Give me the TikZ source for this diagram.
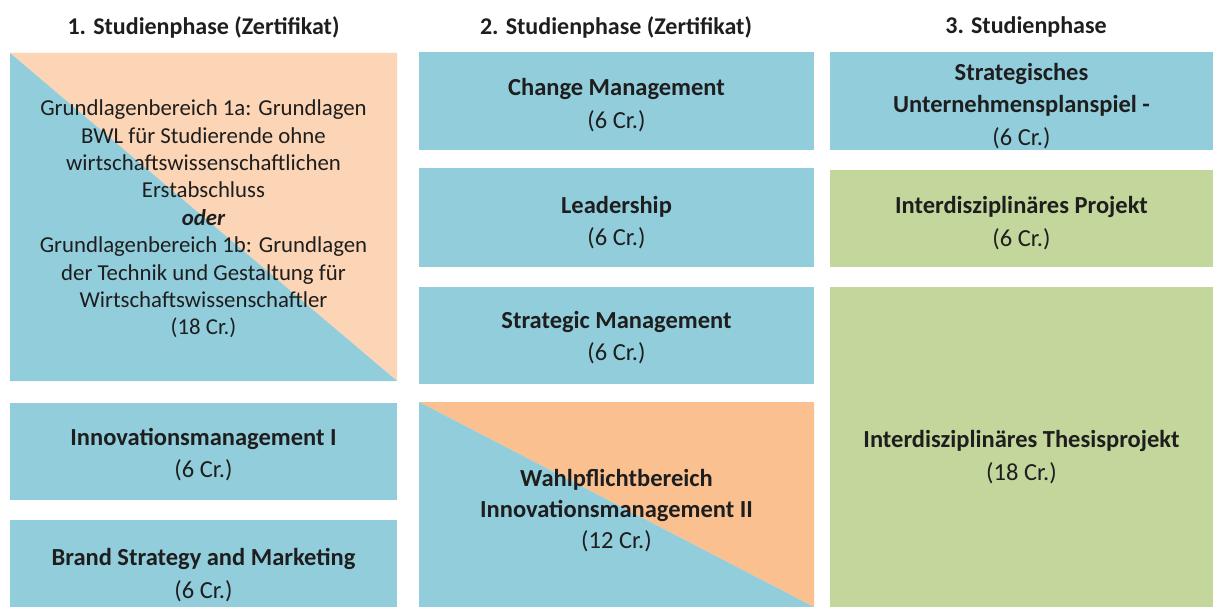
\documentclass[tikz,border=0pt]{standalone}
\usepackage{fontspec}
\setmainfont{Carlito}
\usetikzlibrary{backgrounds}
\definecolor{cblue}{HTML}{92CDDC}
\definecolor{cpeach}{HTML}{FBD5B5}
\definecolor{corange}{HTML}{FAC090}
\definecolor{cgreen}{HTML}{C3D69B}
\definecolor{txt}{HTML}{1E1E1E}
\tikzset{
  box/.style={inner sep=0pt, outer sep=0pt, anchor=north west},
  lbl/.style={inner sep=0pt, outer sep=0pt, anchor=center, align=center, text=txt,
    font=\bfseries\fontsize{24.5}{32.5}\selectfont},
  head/.style={inner sep=0pt, text=txt, font=\bfseries\fontsize{24}{28}\selectfont},
  regtext/.style={font=\fontsize{22.8}{27.4}\selectfont}
}
\begin{document}
\begin{tikzpicture}[x=1pt,y=-1pt]
\clip (0,0) rectangle (1213,607);
% headings
\node[head] (h1) at (203.5,27) {1. Studienphase (Zertifikat)};
\node[head] (h2) at (616,27) {2. Studienphase (Zertifikat)};
\node[head] (h3) at (1026,27) {3. Studienphase};
% column 1
\node[box, minimum width=387pt, minimum height=328pt] (g1) at (10,53) {};
\node[lbl, regtext] (g1t) at ([yshift=-2pt]g1.center)
  {Grundlagenbereich 1a: Grundlagen\\BWL für Studierende ohne\\wirtschaftswissenschaftlichen\\Erstabschluss\\
   {\bfseries\itshape oder}\\Grundlagenbereich 1b: Grundlagen\\der Technik und Gestaltung für\\Wirtschaftswissenschaftler\\(18 Cr.)};
\node[box, fill=cblue, minimum width=387pt, minimum height=97pt] (im1) at (10,403) {};
\node[lbl] (im1t) at ([yshift=-3pt]im1.center) {Innovationsmanagement I\\{\mdseries (6 Cr.)}};
\node[box, fill=cblue, minimum width=387pt, minimum height=104pt] (bsm) at (10,520) {};
\node[lbl] (bsmt) at ([yshift=-3pt]bsm.center) {Brand Strategy and Marketing\\{\mdseries (6 Cr.)}};
% column 2
\node[box, fill=cblue, minimum width=395pt, minimum height=98pt] (cm) at (419,52) {};
\node[lbl] (cmt) at ([yshift=-4pt]cm.center) {Change Management\\{\mdseries (6 Cr.)}};
\node[box, fill=cblue, minimum width=395pt, minimum height=99pt] (ld) at (419,168) {};
\node[lbl] (ldt) at ([yshift=-5pt]ld.center) {Leadership\\{\mdseries (6 Cr.)}};
\node[box, fill=cblue, minimum width=395pt, minimum height=97pt] (sm) at (419,287) {};
\node[lbl] (smt) at ([yshift=-2pt]sm.center) {Strategic Management\\{\mdseries (6 Cr.)}};
\node[box, minimum width=395pt, minimum height=205pt] (wp) at (419,402) {};
\node[lbl, font=\bfseries\fontsize{24.5}{31}\selectfont] (wpt) at ([yshift=-6pt]wp.center)
  {Wahlpflichtbereich\\Innovationsmanagement II\\{\mdseries (12 Cr.)}};
% column 3
\node[box, fill=cblue, minimum width=383pt, minimum height=98pt] (sup) at (830,52) {};
\node[lbl] (supt) at ([yshift=-5pt]sup.center) {Strategisches\\Unternehmensplanspiel -\\{\mdseries (6 Cr.)}};
\node[box, fill=cgreen, minimum width=383pt, minimum height=97pt] (ip) at (830,170) {};
\node[lbl] (ipt) at ([yshift=-4.5pt]ip.center) {Interdisziplinäres Projekt\\{\mdseries (6 Cr.)}};
\node[box, fill=cgreen, minimum width=383pt, minimum height=336pt] (tp) at (830,287) {};
\node[lbl] (tpt) at ([yshift=-2pt]tp.center) {Interdisziplinäres Thesisprojekt\\{\mdseries (18 Cr.)}};
% split backgrounds
\begin{scope}[on background layer]
  \fill[white] (0,0) rectangle (1213,607);
  \fill[cpeach] (g1.north west) -- (g1.north east) -- (g1.south east) -- cycle;
  \fill[cblue] (g1.north west) -- (g1.south east) -- (g1.south west) -- cycle;
  \fill[corange] (wp.north west) -- (wp.north east) -- (wp.south east) -- cycle;
  \fill[cblue] (wp.north west) -- (wp.south east) -- (wp.south west) -- cycle;
\end{scope}
\end{tikzpicture}
\end{document}
